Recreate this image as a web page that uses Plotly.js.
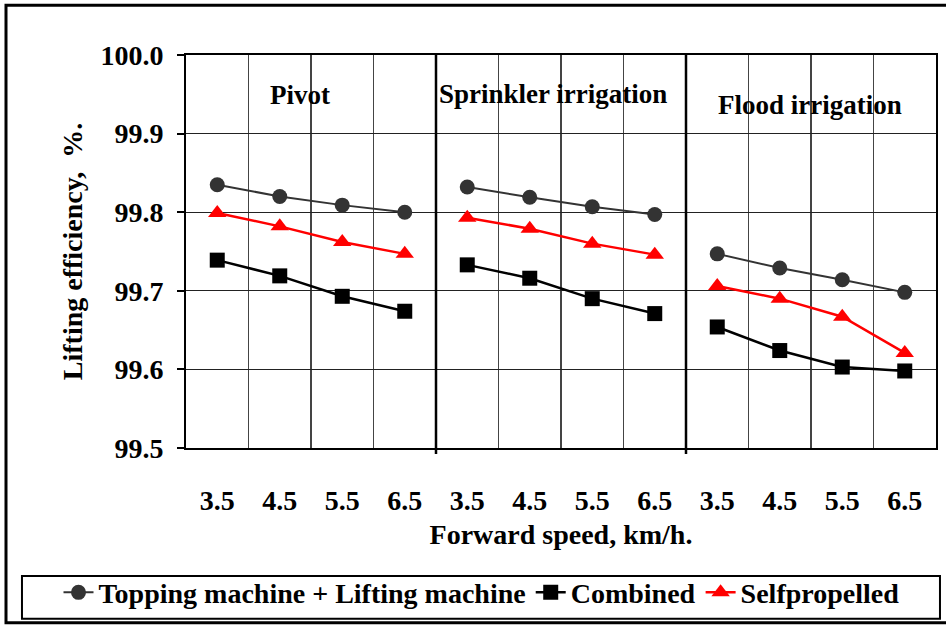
<!DOCTYPE html>
<html>
<head>
<meta charset="utf-8">
<script src="https://cdn.plot.ly/plotly-3.0.1.min.js"></script>
<style>html,body{margin:0;padding:0;background:#fff;}#chart{width:946px;height:628px;}</style>
</head>
<body>
<div id="chart"></div>
<script>
// ---- data ----
const groups = ['Pivot', 'Sprinkler irrigation', 'Flood irrigation'];
const speeds = ['3.5', '4.5', '5.5', '6.5'];

const toppingPivot     = [99.835, 99.820, 99.809, 99.800];
const toppingSprinkler = [99.832, 99.819, 99.807, 99.797];
const toppingFlood     = [99.747, 99.729, 99.714, 99.698];

const combinedPivot     = [99.739, 99.719, 99.693, 99.674];
const combinedSprinkler = [99.733, 99.716, 99.690, 99.671];
const combinedFlood     = [99.654, 99.624, 99.603, 99.598];

const selfPivot     = [99.799, 99.782, 99.762, 99.747];
const selfSprinkler = [99.793, 99.779, 99.760, 99.746];
const selfFlood     = [99.706, 99.690, 99.667, 99.621];

const seriesNames = ['Topping machine + Lifting machine', 'Combined', 'Selfpropelled'];

// ---- build traces (break line between groups) ----
function build(parts) {
  const x = [], y = [];
  parts.forEach((vals, g) => {
    vals.forEach((v, j) => { x.push(g * speeds.length + j); y.push(v); });
    if (g < parts.length - 1) { x.push(null); y.push(null); }
  });
  return {x, y};
}
const FONT = 'Liberation Serif, Times New Roman, serif';
const FS = 28;
const t1 = build([toppingPivot, toppingSprinkler, toppingFlood]);
const t2 = build([combinedPivot, combinedSprinkler, combinedFlood]);
const t3 = build([selfPivot, selfSprinkler, selfFlood]);

const traces = [
  {x: t1.x, y: t1.y, name: seriesNames[0], mode: 'lines+markers', connectgaps: false,
   line: {color: '#333333', width: 2}, marker: {symbol: 'circle', size: 15, color: '#333333'}},
  {x: t2.x, y: t2.y, name: seriesNames[1], mode: 'lines+markers', connectgaps: false,
   line: {color: '#000000', width: 2.5}, marker: {symbol: 'square', size: 15, color: '#000000'}},
  {x: t3.x, y: t3.y, name: seriesNames[2], mode: 'lines+markers', connectgaps: false,
   line: {color: '#ff0000', width: 2.5}, marker: {symbol: 'triangle-up', size: 16, color: '#ff0000'}}
];

const nCat = groups.length * speeds.length;
const tickIdx = [], tickTxt = [];
for (let g = 0; g < groups.length; g++) for (let j = 0; j < speeds.length; j++) {
  tickIdx.push(g * speeds.length + j); tickTxt.push(speeds[j]);
}

const shapes = [];
// group separators
for (let g = 1; g < groups.length; g++) {
  shapes.push({type: 'line', xref: 'x', yref: 'paper', x0: g * speeds.length - 0.5, x1: g * speeds.length - 0.5,
    y0: -0.015, y1: 1, line: {color: '#000', width: 2.5}});
}
// legend box
shapes.push({type: 'rect', xref: 'paper', yref: 'paper', x0: -0.2187, x1: 1.0053, y0: -0.4343, y1: -0.3258,
  line: {color: '#000', width: 2}});
// outer frame
shapes.push({type: 'rect', xref: 'paper', yref: 'paper', x0: -0.24, x1: 1.02, y0: -0.4444, y1: 1.1263,
  line: {color: '#000', width: 3}});

const groupLabelPos = [[1.32, 99.949], [5.37, 99.951], [9.48, 99.937]];
const annotations = groups.map((gname, g) => ({
  text: gname, xref: 'x', yref: 'y', x: groupLabelPos[g][0], y: groupLabelPos[g][1],
  showarrow: false, font: {family: FONT, size: 27, color: '#000', weight: 'bold'}
}));

const layout = {
  width: 946, height: 628,
  margin: {l: 186, r: 10, t: 55, b: 177},
  paper_bgcolor: '#fff', plot_bgcolor: '#fff',
  font: {family: FONT, size: FS, color: '#000', weight: 'bold'},
  showlegend: true,
  legend: {orientation: 'h', x: -0.17, xanchor: 'left', y: -0.368, yanchor: 'middle',
    bgcolor: 'rgba(0,0,0,0)', borderwidth: 0, font: {family: FONT, size: FS, color: '#000', weight: 'bold'}},
  xaxis: {
    range: [-0.5, nCat - 0.5], tickmode: 'array', tickvals: tickIdx, ticktext: tickTxt,
    showgrid: false, zeroline: false, ticks: '', ticklabelstandoff: 26,
    showline: true, linecolor: '#000', linewidth: 2, mirror: true,
    minor: {tick0: 0.5, dtick: 1, showgrid: true, gridcolor: '#444', gridwidth: 1.3, ticks: ''},
    tickfont: {family: FONT, size: FS, color: '#000', weight: 'bold'},
    title: {text: 'Forward speed, km/h.', standoff: 10, font: {family: FONT, size: FS, color: '#000', weight: 'bold'}}
  },
  yaxis: {
    range: [99.5, 100.0], dtick: 0.1, tick0: 99.5, tickformat: '.1f',
    ticks: 'outside', ticklen: 7, tickwidth: 2, tickcolor: '#000', ticklabelstandoff: 8,
    showgrid: true, gridcolor: '#222', gridwidth: 1.3, zeroline: false,
    showline: true, linecolor: '#000', linewidth: 2, mirror: true,
    tickfont: {family: FONT, size: FS, color: '#000', weight: 'bold'},
    title: {text: 'Lifting efficiency,  %.', standoff: 10, font: {family: FONT, size: FS, color: '#000', weight: 'bold'}}
  },
  shapes: shapes,
  annotations: annotations
};

Plotly.newPlot('chart', traces, layout, {displayModeBar: false, staticPlot: true});
</script>
</body>
</html>
